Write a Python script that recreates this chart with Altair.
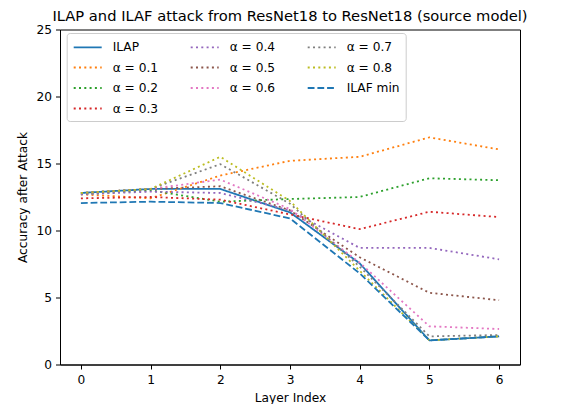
import altair as alt
import pandas as pd

layers = [0, 1, 2, 3, 4, 5, 6]
series_names = ["ILAP", "α = 0.1", "α = 0.2", "α = 0.3", "α = 0.4",
                "α = 0.5", "α = 0.6", "α = 0.7", "α = 0.8", "ILAF min"]
ilap = [12.8, 13.1, 13.1, 11.35, 7.55, 1.8, 2.1]
a01 = [12.7, 12.4, 14.1, 15.2, 15.5, 16.95, 16.05]
a02 = [12.7, 13.0, 12.15, 12.35, 12.5, 13.9, 13.75]
a03 = [12.4, 12.5, 12.3, 11.2, 10.1, 11.4, 11.0]
a04 = [12.7, 12.9, 12.8, 11.5, 8.7, 8.7, 7.85]
a05 = [12.8, 13.1, 13.3, 11.5, 8.0, 5.35, 4.8]
a06 = [12.8, 13.1, 13.8, 11.6, 7.6, 2.85, 2.65]
a07 = [12.8, 13.1, 14.95, 12.0, 7.3, 2.1, 2.2]
a08 = [12.8, 13.1, 15.5, 12.2, 7.0, 1.8, 2.1]
ilaf_min = [12.05, 12.15, 12.05, 10.9, 6.8, 1.8, 2.1]

all_values = [ilap, a01, a02, a03, a04, a05, a06, a07, a08, ilaf_min]
colors = ["#1f77b4", "#ff7f0e", "#2ca02c", "#d62728", "#9467bd",
          "#8c564b", "#e377c2", "#7f7f7f", "#bcbd22", "#1f77b4"]
dashes = [[1, 0]] + [[2, 3.3]] * 8 + [[6.8, 2.9]]

rows = []
for i, (name, vals) in enumerate(zip(series_names, all_values)):
    for x, y in zip(layers, vals):
        rows.append({"series": name, "order": i, "layer": x, "acc": y})
df = pd.DataFrame(rows)

# legend order: row-major arrangement reproducing the column-major legend
legend_idx = [0, 4, 7, 1, 5, 8, 2, 6, 9, 3]
dom = [series_names[i] for i in legend_idx]
col_range = [colors[i] for i in legend_idx]
dash_range = [dashes[i] for i in legend_idx]

font = "DejaVu Sans"

chart = alt.Chart(df).mark_line(strokeWidth=1.8, clip=True).encode(
    x=alt.X("layer:Q", title="Layer Index",
            scale=alt.Scale(domain=[-0.3, 6.3], nice=False, zero=False),
            axis=alt.Axis(values=layers, format="d", grid=False, tickSize=4.5,
                          labelPadding=4, titlePadding=6, domainColor="black",
                          tickColor="black", labelFlush=False)),
    y=alt.Y("acc:Q", title="Accuracy after Attack",
            scale=alt.Scale(domain=[0, 25], nice=False),
            axis=alt.Axis(values=[0, 5, 10, 15, 20, 25], grid=False, tickSize=4.5,
                          labelPadding=4, titlePadding=6, domainColor="black",
                          tickColor="black", labelFlush=False)),
    color=alt.Color("series:N", scale=alt.Scale(domain=dom, range=col_range),
                    legend=alt.Legend(title=None, orient="none", legendX=6.7, legendY=3.5,
                                      direction="horizontal",
                                      columns=3, symbolType="M-1,0H3", symbolSize=196,
                                      symbolStrokeWidth=1.8, labelFontSize=12.2,
                                      labelFont=font, labelColor="black",
                                      columnPadding=21, rowPadding=5.5,
                                      labelOffset=24, gridAlign="all",
                                      padding=6, fillColor="white",
                                      strokeColor="#cccccc", cornerRadius=3)),
    strokeDash=alt.StrokeDash("series:N", scale=alt.Scale(domain=dom, range=dash_range),
                              legend=None),
    detail="order:O",
).properties(
    width=460, height=335,
    title=alt.TitleParams("ILAP and ILAF attack from ResNet18 to ResNet18 (source model)",
                          font=font, fontSize=14.7, fontWeight="normal", color="black",
                          anchor="middle", offset=0),
    padding={"left": 52, "top": 21.5, "right": 37, "bottom": 39.5},
    autosize="none",
).configure_view(
    stroke="black", strokeWidth=1
).configure_axis(
    labelFont=font, titleFont=font, labelFontSize=12.2, titleFontSize=12.2,
    labelColor="black", titleColor="black", titleFontWeight="normal"
)

chart.save("out.html", embed_options={"renderer": "svg", "actions": False})
